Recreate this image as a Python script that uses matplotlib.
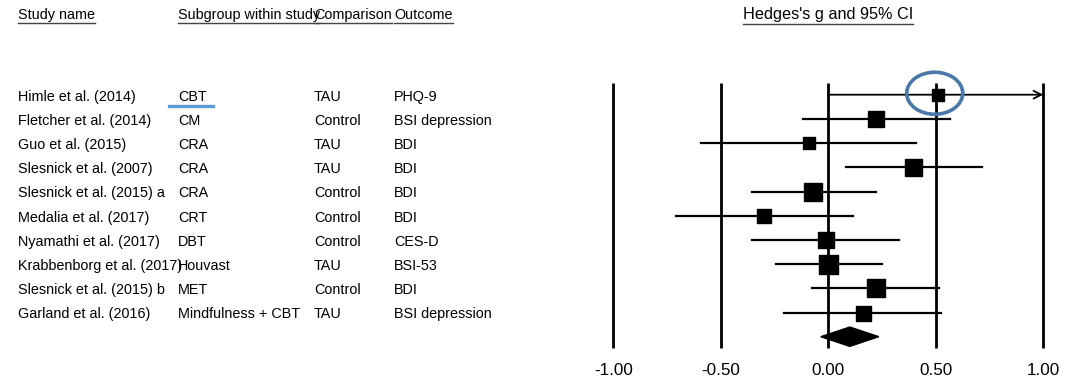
import numpy as np
import matplotlib.pyplot as plt
from matplotlib.patches import Ellipse, Polygon

plt.rcParams['font.family'] = ['Liberation Sans', 'DejaVu Sans']

studies = ["Himle et al. (2014)", "Fletcher et al. (2014)", "Guo et al. (2015)",
           "Slesnick et al. (2007)", "Slesnick et al. (2015) a", "Medalia et al. (2017)",
           "Nyamathi et al. (2017)", "Krabbenborg et al. (2017)", "Slesnick et al. (2015) b",
           "Garland et al. (2016)"]
subgroups = ["CBT", "CM", "CRA", "CRA", "CRA", "CRT", "DBT", "Houvast", "MET",
             "Mindfulness + CBT"]
comparisons = ["TAU", "Control", "TAU", "TAU", "Control", "Control", "Control", "TAU",
               "Control", "TAU"]
outcomes = ["PHQ-9", "BSI depression", "BDI", "BDI", "BDI", "BDI", "CES-D", "BSI-53",
            "BDI", "BSI depression"]
g = [0.51, 0.22, -0.09, 0.395, -0.07, -0.30, -0.01, 0.0, 0.22, 0.16]
lower = [0.0, -0.12, -0.59, 0.08, -0.355, -0.71, -0.355, -0.245, -0.075, -0.205]
upper = [1.5, 0.565, 0.41, 0.715, 0.22, 0.115, 0.33, 0.25, 0.515, 0.525]
weights = [12, 16.5, 12, 17, 18, 14, 16, 19, 18, 15]
pooled = [-0.035, 0.10, 0.235]
xticks = [-1.0, -0.5, 0.0, 0.5, 1.0]

W, H = 1081, 392
fig = plt.figure(figsize=(W / 100, H / 100), dpi=100)
ax = fig.add_axes([0, 0, 1, 1])
x0, ppu = 828.3, 215.0
y0, ppr = 94.7, 24.2
ax.set_xlim((0 - x0) / ppu, (W - x0) / ppu)
ax.set_ylim((H - y0) / ppr, (0 - y0) / ppr)
ax.axis('off')

fs = 10.4
n = len(studies)

# vertical reference lines
for xt in xticks:
    ax.plot([xt, xt], [-0.47, n + 0.48], color='black', lw=2.0, solid_capstyle='butt')
    ax.text(xt, n + 1.38, "%.2f" % xt, ha='center', va='center', fontsize=12.3)

# confidence intervals and squares
for i in range(n):
    if upper[i] > xticks[-1]:
        ax.annotate("", xy=(xticks[-1], i), xytext=(lower[i], i),
                    arrowprops=dict(arrowstyle='->', color='black', lw=1.3,
                                    shrinkA=0, shrinkB=0, mutation_scale=14))
    else:
        ax.plot([lower[i], upper[i]], [i, i], color='black', lw=1.6)
    ax.scatter(g[i], i, marker='s', s=(weights[i] * 0.72) ** 2, color='black', zorder=3)

# pooled diamond
dh = 0.4
ax.add_patch(Polygon([[pooled[0], n], [pooled[1], n - dh], [pooled[2], n], [pooled[1], n + dh]],
                     closed=True, color='black', zorder=3))

# text columns
tx = ax.get_yaxis_transform()
cols = [(18, studies), (178, subgroups), (314, comparisons), (394, outcomes)]
for px, vals in cols:
    for i, v in enumerate(vals):
        ax.text(px / W, i + 0.08, v, transform=tx, ha='left', va='center', fontsize=fs)

headers = [(18, "Study name"), (178, "Subgroup within study"), (314, "Comparison"),
           (394, "Outcome")]
hy = (15 - y0) / ppr
for px, h in headers:
    t = ax.text(px / W, hy, h, transform=tx, ha='left', va='center', fontsize=fs)
t = ax.text(0.0, hy, "Hedges's g and 95% CI", ha='center', va='center', fontsize=11.7)

# underlines of headers
fig.canvas.draw()
r = fig.canvas.get_renderer()
for txt in ax.texts:
    if abs(txt.get_position()[1] - hy) < 1e-6:
        bb = txt.get_window_extent(r)
        inv = ax.transData.inverted()
        (a, b), (c, d) = inv.transform([[bb.x0, bb.y0 - 1.5], [bb.x1, bb.y0 - 1.5]])
        ax.plot([a, c], [b, d], color='#444444', lw=1.0)

# highlights
ax.add_patch(Ellipse((g[0] - 0.015, -0.06), 56 / ppu, 42 / ppr, fill=False,
                     edgecolor='#4a78a8', lw=2.6, zorder=4))
ax.plot([(169 - x0) / ppu, (213 - x0) / ppu], [(106 - y0) / ppr] * 2, color='#5b9bd5', lw=2.4)

fig.savefig("out.png", dpi=100)
